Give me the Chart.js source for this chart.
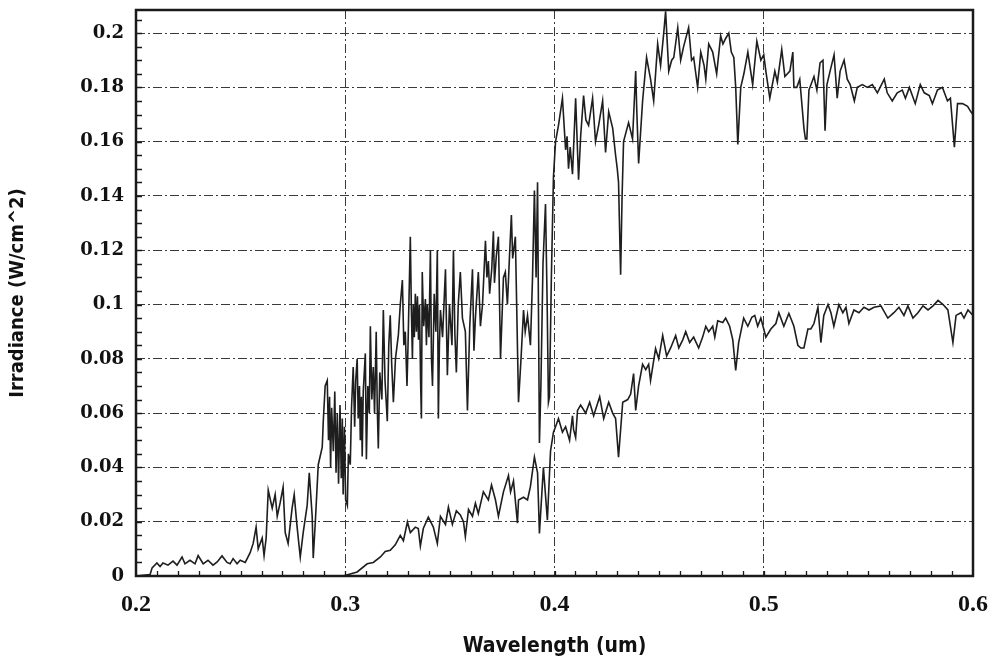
<!DOCTYPE html>
<html>
<head>
<meta charset="utf-8">
<script src="https://cdn.jsdelivr.net/npm/chart.js@4/dist/chart.umd.min.js"></script>
<style>
  html, body { margin: 0; padding: 0; background: #fff; }
  #wrap { width: 991px; height: 664px; }
</style>
</head>
<body>
<div id="wrap"><canvas id="SpectrumChart" width="991" height="664"></canvas></div>
<script>
// wavelength (um) and irradiance (W/cm^2)
const topWl = [0.2000, 0.2067, 0.2077, 0.2100, 0.2115, 0.2129, 0.2153, 0.2177, 0.2196, 0.2220, 0.2234, 0.2258, 0.2282, 0.2297, 0.2321, 0.2344, 0.2368, 0.2388, 0.2411, 0.2435, 0.2450, 0.2464, 0.2483, 0.2498, 0.2522, 0.2545, 0.2560, 0.2574, 0.2584, 0.2603, 0.2612, 0.2622, 0.2632, 0.2651, 0.2665, 0.2675, 0.2689, 0.2703, 0.2713, 0.2727, 0.2746, 0.2756, 0.2770, 0.2785, 0.2799, 0.2818, 0.2828, 0.2842, 0.2847, 0.2857, 0.2871, 0.2890, 0.2895, 0.2904, 0.2914,
  0.2920, 0.2925, 0.2930, 0.2935, 0.2943, 0.2950, 0.2956, 0.2962, 0.2968, 0.2975, 0.2981, 0.2986, 0.2990, 0.2996, 0.3002, 0.3010, 0.3015, 0.3024, 0.3030, 0.3038, 0.3045, 0.3050, 0.3057, 0.3062, 0.3068, 0.3072, 0.3077, 0.3081, 0.3086, 0.3096, 0.3101, 0.3108, 0.3115, 0.3120, 0.3127, 0.3134, 0.3140, 0.3148, 0.3153, 0.3158, 0.3165, 0.3175, 0.3182, 0.3190, 0.3201, 0.3208, 0.3215, 0.3222, 0.3230, 0.3240, 0.3254, 0.3263, 0.3273, 0.3280, 0.3287, 0.3295, 0.3300,
  0.3311, 0.3316, 0.3321, 0.3325, 0.3330, 0.3335, 0.3340, 0.3345, 0.3350, 0.3355, 0.3360, 0.3364, 0.3368, 0.3375, 0.3383, 0.3388, 0.3392, 0.3400, 0.3407, 0.3412, 0.3417, 0.3425, 0.3433, 0.3440, 0.3445, 0.3450, 0.3455, 0.3465, 0.3479, 0.3488, 0.3498, 0.3510, 0.3517, 0.3524, 0.3531, 0.3540, 0.3550, 0.3560, 0.3574, 0.3584, 0.3595, 0.3608, 0.3615, 0.3622, 0.3636, 0.3646, 0.3656, 0.3670, 0.3677, 0.3684, 0.3690, 0.3700, 0.3708, 0.3713, 0.3722, 0.3732, 0.3742, 0.3756, 0.3765, 0.3775, 0.3785, 0.3794, 0.3800, 0.3813, 0.3828, 0.3840, 0.3852, 0.3860, 0.3871, 0.3885, 0.3895, 0.3904, 0.3912, 0.3919, 0.3928, 0.3935, 0.3945, 0.3957, 0.3965, 0.3971, 0.3976, 0.3985, 0.3995,
  0.4005, 0.4019, 0.4038, 0.4053, 0.4060, 0.4067, 0.4075, 0.4086, 0.4101, 0.4115, 0.4125, 0.4139, 0.4150, 0.4163, 0.4182, 0.4196, 0.4211, 0.4230, 0.4244, 0.4259, 0.4278, 0.4292, 0.4300, 0.4306, 0.4316, 0.4323, 0.4330, 0.4354, 0.4373, 0.4388, 0.4393, 0.4402, 0.4421, 0.4440, 0.4459, 0.4474, 0.4493, 0.4507, 0.4522, 0.4531, 0.4546, 0.4560, 0.4570, 0.4589, 0.4603, 0.4617, 0.4641, 0.4655, 0.4665, 0.4684, 0.4699, 0.4715, 0.4723, 0.4737, 0.4756, 0.4775, 0.4794, 0.4805, 0.4818, 0.4833, 0.4845, 0.4857, 0.4866, 0.4876, 0.4890, 0.4905, 0.4924, 0.4947, 0.4967, 0.4986,
  0.5000, 0.5010, 0.5029, 0.5053, 0.5065, 0.5086, 0.5101, 0.5125, 0.5139, 0.5144, 0.5158, 0.5172, 0.5192, 0.5199, 0.5206, 0.5216, 0.5240, 0.5254, 0.5269, 0.5283, 0.5293, 0.5302, 0.5317, 0.5336, 0.5351, 0.5365, 0.5384, 0.5399, 0.5413, 0.5433, 0.5447, 0.5471, 0.5495, 0.5519, 0.5543, 0.5576, 0.5590, 0.5614, 0.5638, 0.5662, 0.5677, 0.5696, 0.5710, 0.5724, 0.5748, 0.5767, 0.5791, 0.5806, 0.5830, 0.5854, 0.5878, 0.5892, 0.5911, 0.5926, 0.5950, 0.5974, 0.5990, 0.6000];
const topIrr = [0, 0.0005, 0.003, 0.0048, 0.0035, 0.0048, 0.004, 0.0055, 0.004, 0.007, 0.0045, 0.0058, 0.0045, 0.0075, 0.0045, 0.0058, 0.004, 0.0052, 0.0074, 0.005, 0.0045, 0.0064, 0.0045, 0.0058, 0.005, 0.0085, 0.012, 0.018, 0.010, 0.014, 0.0075, 0.014, 0.0316, 0.025, 0.030, 0.022, 0.027, 0.0327, 0.016, 0.012, 0.025, 0.030, 0.018, 0.007, 0.016, 0.026, 0.038, 0.022, 0.0066, 0.020, 0.041, 0.0475, 0.057, 0.070, 0.072,
  0.050, 0.066, 0.040, 0.062, 0.046, 0.068, 0.038, 0.060, 0.034, 0.063, 0.036, 0.058, 0.030, 0.055, 0.028, 0.026, 0.045, 0.041, 0.062, 0.077, 0.055, 0.072, 0.080, 0.058, 0.070, 0.050, 0.066, 0.044, 0.068, 0.082, 0.043, 0.070, 0.060, 0.092, 0.065, 0.077, 0.060, 0.090, 0.062, 0.047, 0.075, 0.065, 0.098, 0.072, 0.057, 0.085, 0.096, 0.078, 0.064, 0.080, 0.089, 0.100, 0.109, 0.085, 0.090, 0.070, 0.085,
  0.125, 0.098, 0.080, 0.100, 0.088, 0.104, 0.090, 0.103, 0.087, 0.100, 0.072, 0.058, 0.112, 0.092, 0.102, 0.085, 0.100, 0.088, 0.120, 0.080, 0.070, 0.104, 0.090, 0.120, 0.058, 0.085, 0.098, 0.088, 0.113, 0.074, 0.100, 0.085, 0.120, 0.089, 0.075, 0.100, 0.112, 0.095, 0.090, 0.061, 0.092, 0.113, 0.083, 0.095, 0.112, 0.092, 0.100, 0.1235, 0.110, 0.116, 0.104, 0.113, 0.127, 0.108, 0.118, 0.125, 0.080, 0.110, 0.112, 0.100, 0.118, 0.133, 0.117, 0.125, 0.064, 0.080, 0.098, 0.090, 0.096, 0.085, 0.110, 0.142, 0.110, 0.145, 0.049, 0.070, 0.115, 0.137, 0.100, 0.064, 0.066, 0.110, 0.147,
  0.160, 0.166, 0.176, 0.157, 0.162, 0.150, 0.158, 0.148, 0.176, 0.146, 0.162, 0.177, 0.168, 0.166, 0.176, 0.160, 0.166, 0.175, 0.156, 0.171, 0.165, 0.155, 0.150, 0.145, 0.111, 0.140, 0.160, 0.167, 0.161, 0.186, 0.172, 0.152, 0.175, 0.191, 0.183, 0.175, 0.196, 0.188, 0.200, 0.208, 0.186, 0.190, 0.191, 0.202, 0.190, 0.195, 0.202, 0.190, 0.191, 0.180, 0.193, 0.188, 0.183, 0.196, 0.193, 0.185, 0.199, 0.196, 0.198, 0.200, 0.193, 0.191, 0.180, 0.159, 0.180, 0.185, 0.193, 0.181, 0.197, 0.190,
  0.192, 0.186, 0.176, 0.186, 0.182, 0.194, 0.184, 0.186, 0.193, 0.180, 0.180, 0.183, 0.165, 0.161, 0.161, 0.179, 0.184, 0.179, 0.189, 0.190, 0.164, 0.181, 0.186, 0.192, 0.176, 0.186, 0.190, 0.183, 0.181, 0.175, 0.180, 0.181, 0.180, 0.181, 0.178, 0.183, 0.178, 0.175, 0.178, 0.179, 0.176, 0.180, 0.177, 0.174, 0.181, 0.178, 0.177, 0.174, 0.179, 0.180, 0.175, 0.176, 0.158, 0.174, 0.174, 0.173, 0.171, 0.170];

const groundWl = [0.2950, 0.2990, 0.3057, 0.3105, 0.3134, 0.3168, 0.3191, 0.3215, 0.3239, 0.3263, 0.3278, 0.3297, 0.3311, 0.3335, 0.3349, 0.3359, 0.3373, 0.3397, 0.3421, 0.3440, 0.3455, 0.3479, 0.3493, 0.3512, 0.3531, 0.3550, 0.3565, 0.3574, 0.3589, 0.3608, 0.3622, 0.3636, 0.3660, 0.3684, 0.3699, 0.3718, 0.3732, 0.3756, 0.3780, 0.3790, 0.3804, 0.3823, 0.3828, 0.3852, 0.3871, 0.3885, 0.3904, 0.3919, 0.3928, 0.3947, 0.3966, 0.3981, 0.3995,
  0.4005, 0.4019, 0.4038, 0.4053, 0.4072, 0.4086, 0.4091, 0.4101, 0.4110, 0.4125, 0.4149, 0.4168, 0.4187, 0.4216, 0.4235, 0.4259, 0.4278, 0.4292, 0.4306, 0.4326, 0.4350, 0.4364, 0.4378, 0.4388, 0.4402, 0.4421, 0.4436, 0.4450, 0.4459, 0.4483, 0.4498, 0.4517, 0.4536, 0.4555, 0.4579, 0.4594, 0.4613, 0.4627, 0.4646, 0.4665, 0.4689, 0.4708, 0.4723, 0.4737, 0.4756, 0.4766, 0.4780, 0.4804, 0.4818, 0.4837, 0.4852, 0.4866, 0.4880, 0.4904, 0.4924, 0.4943, 0.4957, 0.4971, 0.4986,
  0.5000, 0.5010, 0.5034, 0.5058, 0.5072, 0.5096, 0.5120, 0.5134, 0.5144, 0.5163, 0.5177, 0.5192, 0.5211, 0.5225, 0.5240, 0.5259, 0.5273, 0.5287, 0.5307, 0.5321, 0.5335, 0.5359, 0.5378, 0.5393, 0.5407, 0.5431, 0.5455, 0.5479, 0.5503, 0.5527, 0.5560, 0.5593, 0.5622, 0.5646, 0.5670, 0.5689, 0.5713, 0.5737, 0.5761, 0.5785, 0.5809, 0.5833, 0.5857, 0.5880, 0.5904, 0.5919, 0.5943, 0.5957, 0.5976, 0.6000];
const groundIrr = [0, 0, 0.0015, 0.0045, 0.005, 0.007, 0.009, 0.0095, 0.0115, 0.015, 0.013, 0.0199, 0.016, 0.018, 0.0175, 0.011, 0.0175, 0.0217, 0.018, 0.012, 0.022, 0.019, 0.0254, 0.019, 0.024, 0.0225, 0.020, 0.0145, 0.0245, 0.022, 0.0268, 0.023, 0.031, 0.028, 0.0335, 0.028, 0.022, 0.031, 0.037, 0.031, 0.035, 0.0195, 0.028, 0.029, 0.028, 0.033, 0.0438, 0.038, 0.0157, 0.040, 0.0206, 0.046, 0.053,
  0.055, 0.058, 0.053, 0.055, 0.050, 0.059, 0.054, 0.051, 0.061, 0.063, 0.060, 0.064, 0.059, 0.066, 0.058, 0.064, 0.060, 0.058, 0.0438, 0.064, 0.065, 0.067, 0.0746, 0.061, 0.070, 0.078, 0.076, 0.078, 0.072, 0.0838, 0.080, 0.0886, 0.081, 0.084, 0.0886, 0.084, 0.087, 0.090, 0.086, 0.088, 0.084, 0.088, 0.092, 0.090, 0.092, 0.088, 0.094, 0.0934, 0.095, 0.092, 0.087, 0.0757, 0.086, 0.095, 0.092, 0.0953, 0.096, 0.092, 0.095,
  0.091, 0.088, 0.091, 0.093, 0.097, 0.092, 0.0967, 0.094, 0.092, 0.085, 0.084, 0.084, 0.091, 0.091, 0.093, 0.099, 0.086, 0.096, 0.100, 0.097, 0.092, 0.100, 0.097, 0.099, 0.093, 0.098, 0.097, 0.099, 0.098, 0.099, 0.0995, 0.095, 0.097, 0.099, 0.096, 0.0995, 0.095, 0.097, 0.0995, 0.098, 0.0995, 0.1015, 0.100, 0.098, 0.086, 0.096, 0.097, 0.095, 0.098, 0.096];

const xTicks = [0.2, 0.3, 0.4, 0.5, 0.6];
const yTicks = [0, 0.02, 0.04, 0.06, 0.08, 0.1, 0.12, 0.14, 0.16, 0.18, 0.2];

function toPoints(xs, ys) {
    var pts = [];
    for (var i = 0; i < xs.length; i++) {
        pts.push({ x: xs[i], y: ys[i] });
    }
    return pts;
}

/* frame round the plot plus the small inward ticks */
const frameTicks = {
    id: 'frameTicks',
    afterDatasetsDraw(chart) {
        var c = chart.ctx, a = chart.chartArea;
        var xs = chart.scales.x, ys = chart.scales.y;
        c.save();
        c.strokeStyle = '#1a1a1a';
        c.lineWidth = 1.3;
        c.beginPath();
        for (var v = 0.005; v < 0.208; v += 0.005) {
            var py = Math.round(ys.getPixelForValue(v)) + 0.5;
            c.moveTo(a.left, py);
            c.lineTo(a.left + 6, py);
        }
        for (var w = 0.21; w < 0.6; w += 0.01) {
            var px = Math.round(xs.getPixelForValue(w)) + 0.5;
            c.moveTo(px, a.bottom);
            c.lineTo(px, a.bottom - 5);
        }
        c.stroke();
        c.lineWidth = 2.5;
        c.strokeRect(a.left, a.top, a.right - a.left, a.bottom - a.top);
        c.restore();
    }
};

var titleFont = "'Liberation Sans Narrow', 'DejaVu Sans Condensed', 'Liberation Sans', sans-serif";

const ctx = document.getElementById('SpectrumChart');
const SpectrumChart = new Chart(ctx, {
    type: 'line',
    data: {
        datasets: [{
            label: 'Top of atmosphere',
            data: toPoints(topWl, topIrr),
            borderColor: '#1e1e1e',
            borderWidth: 1.6,
            pointRadius: 0,
            tension: 0,
            fill: false
        }, {
            label: 'Ground level',
            data: toPoints(groundWl, groundIrr),
            borderColor: '#1e1e1e',
            borderWidth: 1.6,
            pointRadius: 0,
            tension: 0,
            fill: false
        }]
    },
    options: {
        responsive: false,
        animation: false,
        layout: {
            padding: { left: 0, top: 10, right: 18, bottom: 0 }
        },
        plugins: {
            legend: { display: false },
            tooltip: { enabled: false }
        },
        scales: {
            x: {
                type: 'linear',
                min: 0.2,
                max: 0.6,
                afterFit: function (s) {
                    s.height = 88;
                    s.paddingLeft = 0;
                    s.paddingRight = 0;
                },
                afterBuildTicks: function (s) {
                    s.ticks = xTicks.map(function (v) { return { value: v }; });
                },
                ticks: {
                    padding: 14,
                    color: '#111',
                    font: { family: "'Liberation Serif', 'DejaVu Serif', serif", size: 24, weight: 'bold' },
                    callback: function (v) { return String(Math.round(v * 10) / 10); }
                },
                grid: { color: '#3a3a3a', lineWidth: 1, drawTicks: false },
                border: { display: false, dash: [9, 3, 2, 3] },
                title: {
                    display: true,
                    text: 'Wavelength (um)',
                    color: '#111',
                    padding: { top: 0, bottom: 5 },
                    font: { family: titleFont, size: 21, weight: 'bold' }
                }
            },
            y: {
                type: 'linear',
                min: 0,
                max: 0.2085,
                afterFit: function (s) {
                    s.width = 136;
                    s.paddingTop = 0;
                    s.paddingBottom = 0;
                },
                afterBuildTicks: function (s) {
                    s.ticks = yTicks.map(function (v) { return { value: v }; });
                },
                ticks: {
                    padding: 12,
                    color: '#111',
                    font: { family: "'DejaVu Serif', 'Liberation Serif', serif", size: 18, weight: 'bold' },
                    callback: function (v) { return String(Math.round(v * 1000) / 1000); }
                },
                grid: { color: '#3a3a3a', lineWidth: 1, drawTicks: false },
                border: { display: false, dash: [9, 3, 2, 3] },
                title: {
                    display: true,
                    text: 'Irradiance (W/cm^2)',
                    color: '#111',
                    padding: { top: 6, bottom: 0 },
                    font: { family: titleFont, size: 20, weight: 'bold' }
                }
            }
        }
    },
    plugins: [frameTicks]
});
</script>
</body>
</html>
